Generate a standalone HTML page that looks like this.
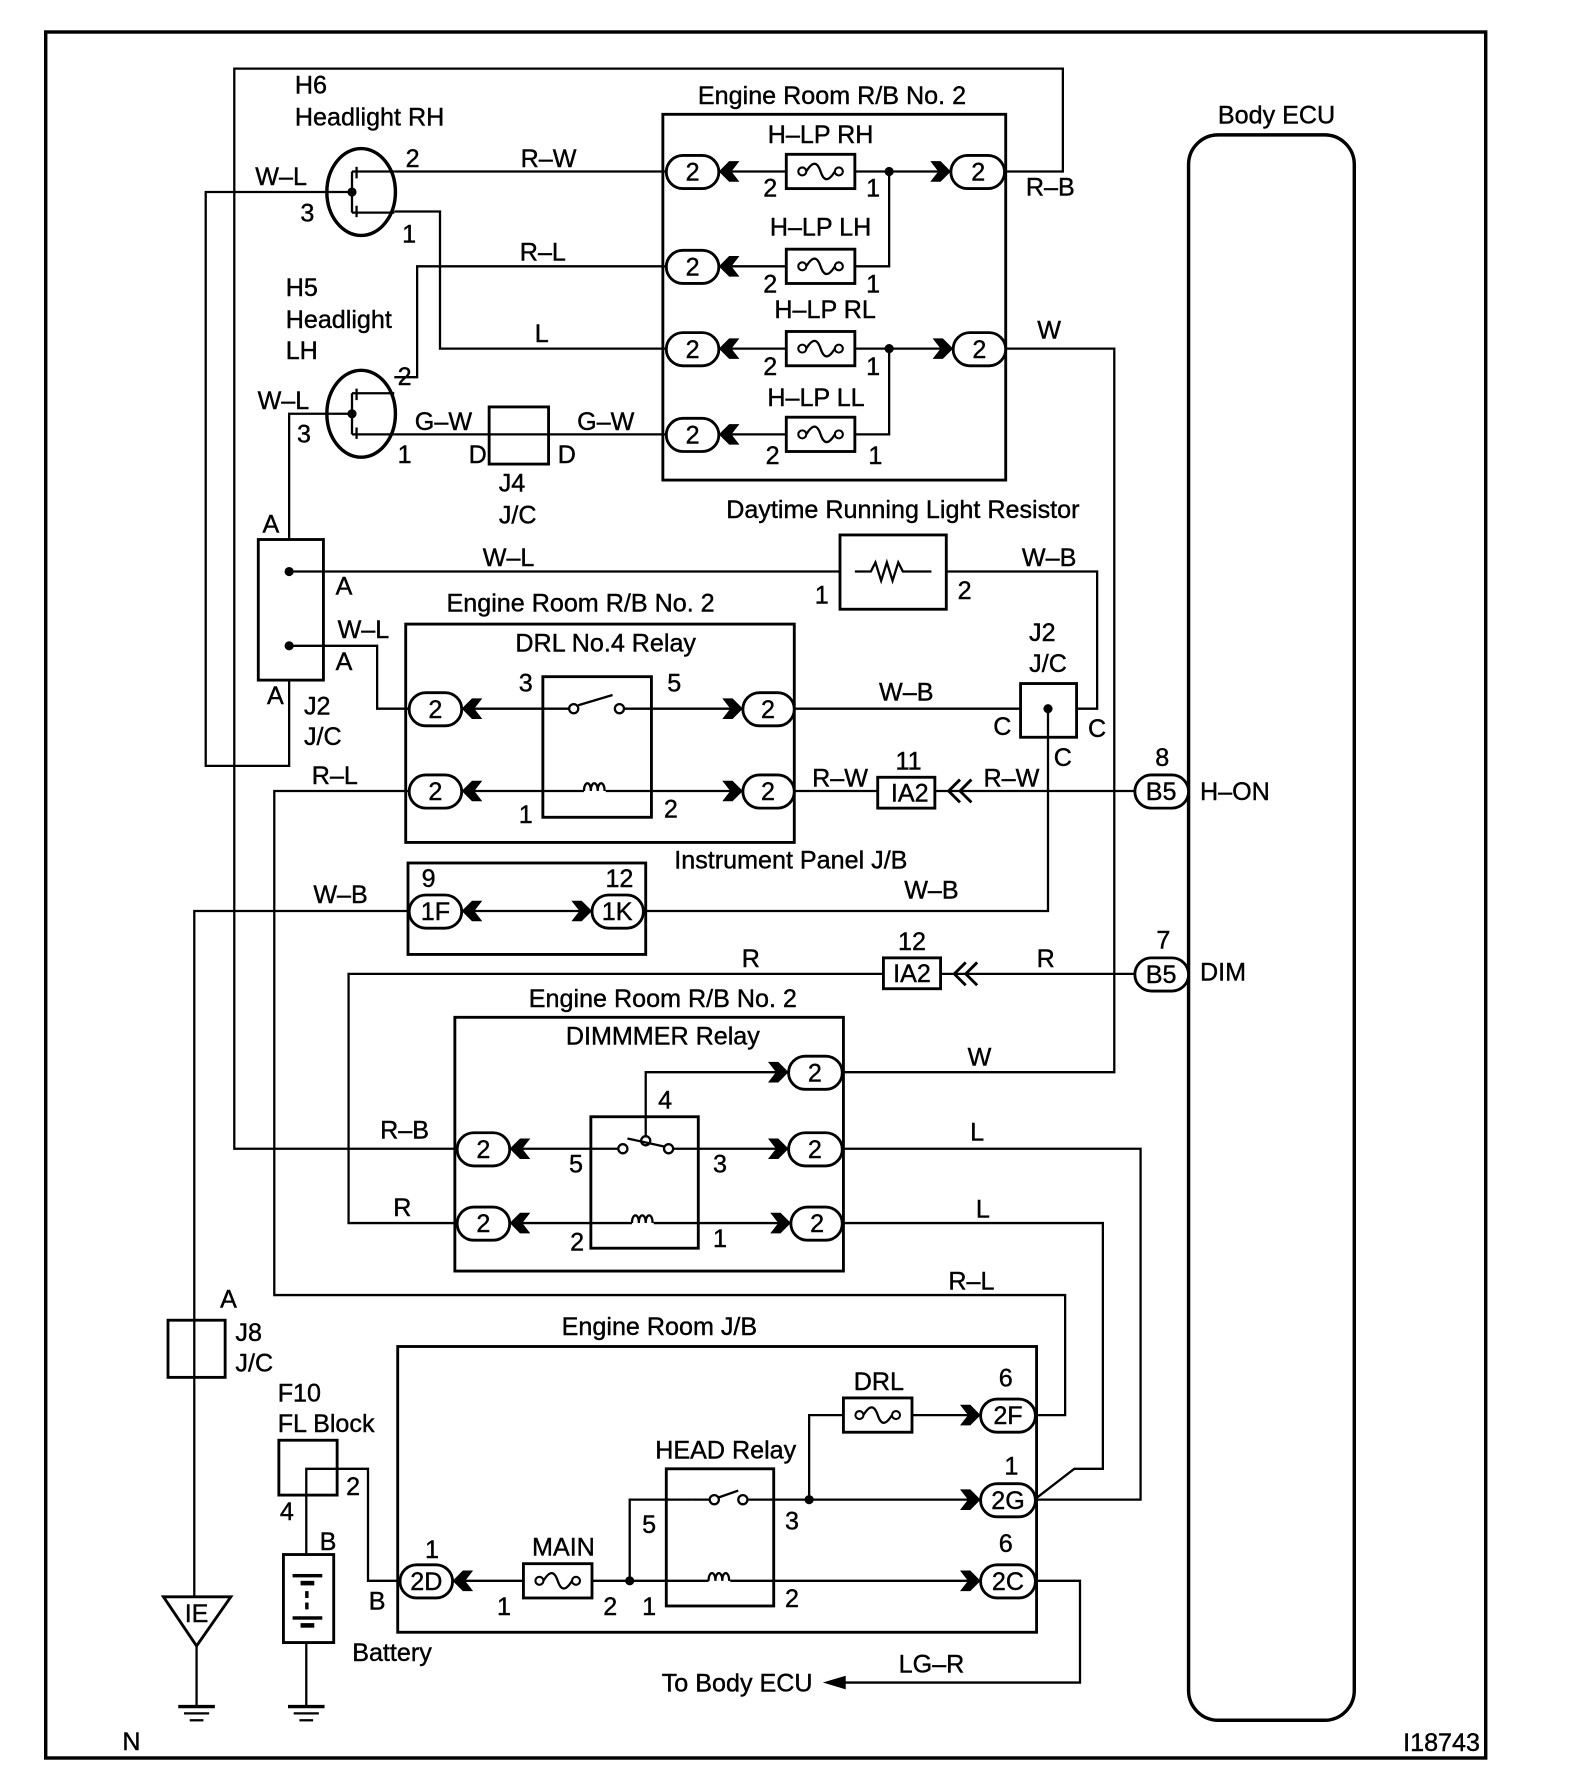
<!DOCTYPE html>
<html><head><meta charset="utf-8"><style>
html,body{margin:0;padding:0;background:#fff;}
svg{display:block;}
text{font-family:"Liberation Sans",Arial,sans-serif;font-size:22px;fill:#000;text-anchor:middle;stroke:#000;stroke-width:0.35px;}
.l{text-anchor:start;}
</style></head><body>
<svg width="1584" height="1790" viewBox="0 0 1386 1566" preserveAspectRatio="none" xmlns="http://www.w3.org/2000/svg">
<defs>
<polygon id="al" points="0,0 9,-9 18,-9 11,0 18,9 9,9"/>
<polygon id="ar" points="0,0 -9,-9 -18,-9 -11,0 -18,9 -9,9"/>
<g id="fuse"><rect x="0" y="-15" width="60" height="30" fill="#fff" stroke="#000" stroke-width="2.5"/><circle cx="14" cy="0" r="3.5" fill="#fff" stroke="#000" stroke-width="1.8"/><circle cx="46" cy="0" r="3.5" fill="#fff" stroke="#000" stroke-width="1.8"/><path d="M17.5,0 C23,-9 27,-9 30,0 C33,9 37,9 42.5,0" fill="none" stroke="#000" stroke-width="2"/></g>
<g id="gnd"><line x1="-16" y1="0" x2="16" y2="0" stroke="#000" stroke-width="3"/><line x1="-11" y1="6" x2="11" y2="6" stroke="#000" stroke-width="2"/><line x1="-6" y1="12" x2="6" y2="12" stroke="#000" stroke-width="2"/></g>
</defs>
<g fill="none" stroke="#000" stroke-width="2">
<rect x="40" y="28" width="1260" height="1510" stroke-width="3"/>
<rect x="1040" y="118" width="145" height="1387" rx="26" stroke-width="3"/>
<rect x="580" y="100" width="300" height="320" stroke-width="2.5"/>
<rect x="355" y="546" width="340" height="191" stroke-width="2.5"/>
<rect x="357" y="755" width="208" height="80" stroke-width="2.5"/>
<rect x="398" y="890" width="340" height="222" stroke-width="2.5"/>
<rect x="348" y="1178" width="559" height="250" stroke-width="2.5"/>
<polyline points="880,150 930,150 930,60 205,60 205,1005 400,1005"/>
<line x1="345" y1="150" x2="583" y2="150"/>
<polyline points="345,185 385,185 385,305 583,305"/>
<polyline points="345,330 365,330 365,233 583,233"/>
<line x1="345" y1="380" x2="583" y2="380"/>
<rect x="428" y="356" width="52" height="50" stroke-width="2.5"/>
<line x1="629" y1="150" x2="688" y2="150"/><line x1="748" y1="150" x2="832" y2="150"/>
<line x1="629" y1="233" x2="688" y2="233"/><polyline points="748,233 778,233 778,150"/>
<line x1="629" y1="305" x2="688" y2="305"/><line x1="748" y1="305" x2="834" y2="305"/>
<line x1="629" y1="380" x2="688" y2="380"/><polyline points="748,380 778,380 778,305"/>
<polyline points="880,305 975,305 975,938 738,938"/>
<polyline points="290,168 180,168 180,670 253,670 253,595"/>
<polyline points="290,362 253,362 253,472"/>
<rect x="226" y="472" width="57" height="123" stroke-width="2.5"/>
<line x1="253" y1="500" x2="735" y2="500"/>
<rect x="735" y="468" width="93" height="65" stroke-width="2.5"/>
<polyline points="748,500 762,500 766,492 771,508 776,492 781,508 786,492 790,500 815,500"/>
<polyline points="828,500 960,500 960,620 942,620"/>
<polyline points="253,565 330,565 330,620 358,620"/>
<rect x="475" y="592" width="95" height="123" stroke-width="2.5"/>
<line x1="404" y1="620" x2="498" y2="620"/><line x1="546" y1="620" x2="650" y2="620"/>
<circle cx="502" cy="620" r="4" fill="#fff"/><circle cx="542" cy="620" r="4" fill="#fff"/>
<line x1="506" y1="617" x2="536" y2="608"/>
<line x1="404" y1="692" x2="511" y2="692"/><line x1="530" y1="692" x2="650" y2="692"/>
<path d="M511,692 c0,-9 6,-9 6,0 c0,-9 6,-9 6,0 c0,-9 6,-9 6,0"/>
<line x1="695" y1="620" x2="893" y2="620"/>
<rect x="893" y="598" width="49" height="47" stroke-width="2.5"/>
<polyline points="917,620 917,797 563,797"/>
<line x1="695" y1="692" x2="768" y2="692"/>
<rect x="768" y="680" width="50" height="27" stroke-width="2.5"/>
<line x1="818" y1="692" x2="993" y2="692"/>
<path d="M840,682 l-10,10 l10,10 M850,682 l-10,10 l10,10" stroke-width="2.5"/>
<polyline points="358,692 240,692 240,1133 932,1133 932,1238 905,1238"/>
<line x1="404" y1="797" x2="518" y2="797"/>
<polyline points="358,797 170,797 170,1397"/>
<rect x="147" y="1155" width="50" height="50" stroke-width="2.5"/>
<line x1="172" y1="1440" x2="172" y2="1493"/>
<polygon points="143,1397 202,1397 172,1440" stroke-width="2.5"/>
<polyline points="773,852 305,852 305,1070 400,1070"/>
<rect x="773" y="838" width="50" height="27" stroke-width="2.5"/>
<line x1="823" y1="852" x2="993" y2="852"/>
<path d="M845,842 l-10,10 l10,10 M855,842 l-10,10 l10,10" stroke-width="2.5"/>
<rect x="517" y="977" width="94" height="115" stroke-width="2.5"/>
<polyline points="565,994 565,938 690,938"/>
<line x1="446" y1="1005" x2="541" y2="1005"/><line x1="589" y1="1005" x2="690" y2="1005"/>
<circle cx="545" cy="1005" r="4" fill="#fff"/><circle cx="585" cy="1005" r="4" fill="#fff"/><circle cx="565" cy="998" r="4" fill="#fff"/>
<line x1="549" y1="996" x2="581" y2="1003"/>
<line x1="446" y1="1070" x2="553" y2="1070"/><line x1="572" y1="1070" x2="692" y2="1070"/>
<path d="M553,1070 c0,-9 6,-9 6,0 c0,-9 6,-9 6,0 c0,-9 6,-9 6,0"/>
<polyline points="738,1005 998,1005 998,1312 905,1312"/>
<polyline points="738,1070 965,1070 965,1285 940,1285 905,1312"/>
<line x1="797" y1="1238" x2="858" y2="1238"/>
<polyline points="738,1238 708,1238 708,1312"/>
<line x1="677" y1="1312" x2="858" y2="1312"/>
<rect x="583" y="1285" width="94" height="120" stroke-width="2.5"/>
<line x1="605" y1="1312" x2="621" y2="1312"/><circle cx="625" cy="1312" r="4" fill="#fff"/><line x1="629" y1="1310" x2="646" y2="1304"/><circle cx="650" cy="1312" r="4" fill="#fff"/><line x1="654" y1="1312" x2="677" y2="1312"/>
<polyline points="551,1383 551,1312 605,1312"/>
<line x1="396" y1="1383" x2="458" y2="1383"/><line x1="516" y1="1383" x2="620" y2="1383"/><line x1="639" y1="1383" x2="858" y2="1383"/>
<path d="M620,1383 c0,-9 6,-9 6,0 c0,-9 6,-9 6,0 c0,-9 6,-9 6,0"/>
<polyline points="907,1383 945,1383 945,1472 738,1472"/>
<rect x="244" y="1260" width="51" height="48" stroke-width="2.5"/>
<polyline points="268,1360 268,1285 322,1285 322,1383 350,1383"/>
<rect x="248" y="1360" width="44" height="77" stroke-width="2.5"/>
<line x1="268" y1="1437" x2="268" y2="1493"/>
</g>
<g fill="#000">
<circle cx="778" cy="150" r="4"/><circle cx="778" cy="305" r="4"/>
<circle cx="253" cy="500" r="4"/><circle cx="253" cy="565" r="4"/>
<circle cx="917" cy="620" r="4"/><circle cx="708" cy="1312" r="4"/><circle cx="551" cy="1383" r="4"/>
<polygon points="720,1472 740,1466 740,1478"/>
<rect x="256" y="1377" width="26" height="3"/><rect x="263" y="1383" width="12" height="4"/>
<rect x="267" y="1392" width="3" height="6"/><rect x="267" y="1402" width="3" height="6"/>
<rect x="256" y="1414" width="26" height="3"/><rect x="263" y="1420" width="12" height="4"/>
<use href="#al" x="629" y="150"/><use href="#ar" x="832" y="150"/>
<use href="#al" x="629" y="233"/>
<use href="#al" x="629" y="305"/><use href="#ar" x="834" y="305"/>
<use href="#al" x="629" y="380"/>
<use href="#al" x="404" y="620"/><use href="#ar" x="650" y="620"/>
<use href="#al" x="404" y="692"/><use href="#ar" x="650" y="692"/>
<use href="#al" x="404" y="797"/><use href="#ar" x="518" y="797"/>
<use href="#ar" x="690" y="938"/>
<use href="#al" x="446" y="1005"/><use href="#ar" x="690" y="1005"/>
<use href="#al" x="446" y="1070"/><use href="#ar" x="692" y="1070"/>
<use href="#ar" x="858" y="1238"/><use href="#ar" x="858" y="1312"/><use href="#ar" x="858" y="1383"/>
<use href="#al" x="396" y="1383"/>
</g>
<use href="#fuse" x="688" y="150"/><use href="#fuse" x="688" y="233"/><use href="#fuse" x="688" y="305"/><use href="#fuse" x="688" y="380"/>
<use href="#fuse" x="738" y="1238"/><use href="#fuse" x="458" y="1383"/>
<use href="#gnd" x="172" y="1493"/><use href="#gnd" x="268" y="1493"/>
<g fill="none" stroke="#000" stroke-width="3">
<ellipse cx="316" cy="168" rx="30" ry="38"/><ellipse cx="316" cy="362" rx="30" ry="38"/>
</g>
<g fill="none" stroke="#000" stroke-width="2">
<path d="M290,168 L308,168 M308,150 L308,186 M308,150 h8 M316,150 h29 M308,186 h8 M316,186 h29 M312,146 v10 M312,180 v10"/>
<path d="M290,362 L308,362 M308,344 L308,380 M308,344 h8 M316,344 h29 M308,380 h8 M316,380 h29 M312,340 v10 M312,374 v10"/>
</g>
<circle cx="308" cy="168" r="4"/><circle cx="308" cy="362" r="4"/>
<g fill="#fff" stroke="#000" stroke-width="2.5">
<rect x="583" y="136" width="46" height="29" rx="14.5"/><rect x="832" y="136" width="47" height="29" rx="14.5"/>
<rect x="583" y="219" width="46" height="29" rx="14.5"/>
<rect x="583" y="291" width="46" height="29" rx="14.5"/><rect x="834" y="291" width="46" height="29" rx="14.5"/>
<rect x="583" y="366" width="46" height="29" rx="14.5"/>
<rect x="358" y="606" width="46" height="29" rx="14.5"/><rect x="650" y="606" width="45" height="29" rx="14.5"/>
<rect x="358" y="678" width="46" height="29" rx="14.5"/><rect x="650" y="678" width="45" height="29" rx="14.5"/>
<rect x="358" y="783" width="46" height="29" rx="14.5"/><rect x="518" y="783" width="45" height="29" rx="14.5"/>
<rect x="690" y="924" width="47" height="29" rx="14.5"/>
<rect x="400" y="991" width="46" height="29" rx="14.5"/><rect x="690" y="991" width="47" height="29" rx="14.5"/>
<rect x="400" y="1056" width="46" height="29" rx="14.5"/><rect x="692" y="1056" width="45" height="29" rx="14.5"/>
<rect x="858" y="1224" width="48" height="29" rx="14.5"/>
<rect x="858" y="1298" width="48" height="29" rx="14.5"/>
<rect x="858" y="1369" width="48" height="29" rx="14.5"/>
<rect x="350" y="1369" width="46" height="29" rx="14.5"/>
<rect x="993" y="678" width="47" height="29" rx="14.5"/><rect x="993" y="838" width="47" height="29" rx="14.5"/>
</g>
<g>
<text x="606" y="158">2</text><text x="856" y="158">2</text><text x="606" y="241">2</text><text x="606" y="313">2</text><text x="857" y="313">2</text><text x="606" y="388">2</text>
<text x="381" y="628">2</text><text x="672" y="628">2</text><text x="381" y="700">2</text><text x="672" y="700">2</text>
<text x="381" y="805">1F</text><text x="540" y="805">1K</text>
<text x="713" y="946">2</text><text x="423" y="1013">2</text><text x="713" y="1013">2</text><text x="423" y="1078">2</text><text x="715" y="1078">2</text>
<text x="882" y="1246">2F</text><text x="882" y="1320">2G</text><text x="882" y="1391">2C</text><text x="373" y="1391">2D</text>
<text x="1016" y="700">B5</text><text x="1016" y="860">B5</text>
<text x="796" y="701" font-size="20">IA2</text><text x="798" y="859" font-size="20">IA2</text>
<text x="172" y="1419">IE</text>
<text x="1117" y="108">Body ECU</text>
<text class="l" x="258" y="82">H6</text><text class="l" x="258" y="110">Headlight RH</text>
<text x="246" y="162">W–L</text><text x="269" y="194">3</text><text x="361" y="146">2</text><text x="358" y="212">1</text>
<text x="480" y="146">R–W</text><text x="728" y="91">Engine Room R/B No. 2</text>
<text x="718" y="125">H–LP RH</text><text x="718" y="206">H–LP LH</text><text x="722" y="278">H–LP RL</text><text x="714" y="355">H–LP LL</text>
<text x="674" y="172">2</text><text x="764" y="172">1</text><text x="674" y="256">2</text><text x="764" y="256">1</text>
<text x="674" y="328">2</text><text x="764" y="328">1</text><text x="676" y="406">2</text><text x="766" y="406">1</text>
<text x="919" y="171">R–B</text><text x="475" y="228">R–L</text><text x="918" y="296">W</text><text x="474" y="299">L</text>
<text class="l" x="250" y="259">H5</text><text class="l" x="250" y="287">Headlight</text><text class="l" x="250" y="314">LH</text>
<text x="354" y="337">2</text><text x="248" y="358">W–L</text><text x="266" y="387">3</text><text x="354" y="405">1</text>
<text x="388" y="376">G–W</text><text x="530" y="376">G–W</text><text x="418" y="405">D</text><text x="496" y="405">D</text>
<text x="448" y="430">J4</text><text x="453" y="458">J/C</text>
<text x="790" y="453">Daytime Running Light Resistor</text>
<text x="237" y="466">A</text><text x="301" y="520">A</text><text x="445" y="495">W–L</text><text x="719" y="528">1</text><text x="844" y="524">2</text><text x="918" y="495">W–B</text>
<text x="508" y="535">Engine Room R/B No. 2</text><text x="530" y="570">DRL No.4 Relay</text>
<text x="318" y="558">W–L</text><text x="301" y="586">A</text><text x="241" y="616">A</text>
<text class="l" x="266" y="625">J2</text><text class="l" x="266" y="652">J/C</text>
<text x="460" y="605">3</text><text x="590" y="605">5</text><text x="460" y="720">1</text><text x="587" y="715">2</text>
<text x="912" y="561">J2</text><text x="917" y="588">J/C</text><text x="877" y="643">C</text><text x="960" y="645">C</text><text x="930" y="670">C</text>
<text x="793" y="613">W–B</text><text x="293" y="686">R–L</text>
<text x="735" y="688">R–W</text><text x="885" y="688">R–W</text><text x="795" y="673">11</text><text x="1017" y="670">8</text>
<text class="l" x="1050" y="700">H–ON</text>
<text x="692" y="760">Instrument Panel J/B</text>
<text x="375" y="776">9</text><text x="542" y="776">12</text><text x="298" y="790">W–B</text><text x="815" y="786">W–B</text>
<text x="657" y="846">R</text><text x="915" y="846">R</text><text x="798" y="831">12</text><text x="1018" y="830">7</text>
<text class="l" x="1050" y="858">DIM</text>
<text x="580" y="881">Engine Room R/B No. 2</text><text x="580" y="914">DIMMMER Relay</text>
<text x="857" y="932">W</text><text x="582" y="970">4</text>
<text x="354" y="996">R–B</text><text x="855" y="998">L</text><text x="504" y="1026">5</text><text x="630" y="1026">3</text>
<text x="352" y="1064">R</text><text x="860" y="1065">L</text><text x="505" y="1094">2</text><text x="630" y="1091">1</text>
<text x="850" y="1128">R–L</text>
<text x="200" y="1144">A</text><text class="l" x="206" y="1173">J8</text><text class="l" x="206" y="1200">J/C</text>
<text x="577" y="1168">Engine Room J/B</text><text x="769" y="1216">DRL</text><text x="880" y="1213">6</text>
<text class="l" x="243" y="1226">F10</text><text class="l" x="243" y="1253">FL Block</text>
<text x="635" y="1276">HEAD Relay</text><text x="885" y="1290">1</text>
<text x="309" y="1308">2</text><text x="251" y="1330">4</text><text x="287" y="1356">B</text>
<text x="568" y="1341">5</text><text x="693" y="1338">3</text>
<text x="493" y="1361">MAIN</text><text x="378" y="1363">1</text><text x="880" y="1358">6</text>
<text x="330" y="1408">B</text><text x="441" y="1413">1</text><text x="534" y="1413">2</text><text x="568" y="1413">1</text><text x="693" y="1406">2</text>
<text x="343" y="1453">Battery</text><text x="815" y="1463">LG–R</text><text x="645" y="1480">To Body ECU</text>
<text x="115" y="1531" font-size="14">N</text><text x="1295" y="1532" font-size="13" style="text-anchor:end">I18743</text>
</g>
</svg>
</body></html>
